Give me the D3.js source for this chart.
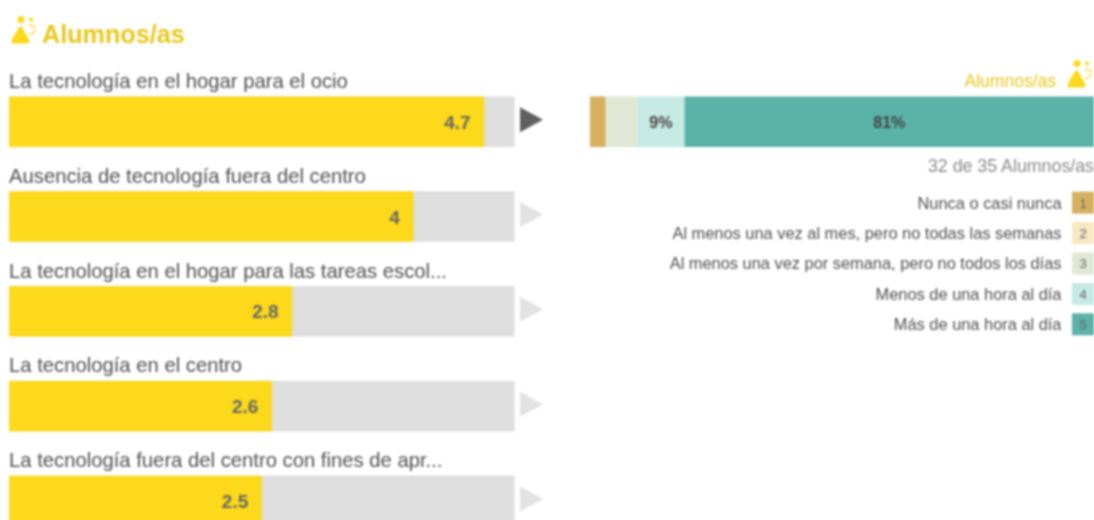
<!DOCTYPE html>
<html><head><meta charset="utf-8">
<script src="https://cdn.jsdelivr.net/npm/d3@7"></script>
<style>
html,body{margin:0;padding:0;background:#fff;overflow:hidden;width:1094px;height:520px}
svg{display:block;filter:blur(0.8px)}
text{font-family:"Liberation Sans",Arial,sans-serif}
</style></head><body>
<svg id="c" width="1104" height="535"></svg>
<script>
const titleText = "Alumnos/as";
const categories = [
  "La tecnología en el hogar para el ocio",
  "Ausencia de tecnología fuera del centro",
  "La tecnología en el hogar para las tareas escol...",
  "La tecnología en el centro",
  "La tecnología fuera del centro con fines de apr..."
];
const means = [4.7, 4, 2.8, 2.6, 2.5];
const responseLabels = [
  "Nunca o casi nunca",
  "Al menos una vez al mes, pero no todas las semanas",
  "Al menos una vez por semana, pero no todos los días",
  "Menos de una hora al día",
  "Más de una hora al día"
];
const responseCodes = [1, 2, 3, 4, 5];
const responseCounts = [1, 0, 2, 3, 26];
const responseShown = ["", "", "", "9%", "81%"];
const responseColors = ["#d6b05f", "#f8e8c0", "#e0e8d5", "#c6e9e3", "#5ab2a9"];
const answered = 32, total = 35;

const svg = d3.select("#c");
const YEL = "#fcd91a", GOLD = "#e9c71d", GREY = "#dedede";

const x = d3.scaleLinear().domain([0, 5]).range([9, 514.5]);
const barH = 50.5;
const rowTop = d3.scaleLinear().domain([0, 1]).range([96.5, 191.3]);

function icon(g) {
  g.append("circle").attr("cx", 10).attr("cy", 3.5).attr("r", 3.6).attr("fill", YEL);
  g.append("circle").attr("cx", 20).attr("cy", 3.5).attr("r", 2).attr("fill", YEL);
  g.append("path").attr("d", "M7.5 12Q9.5 8.5 11.5 12L18 23.5Q19.5 27.5 16 27.5L2.5 27.5Q-1 27.5 1 23.5Z").attr("fill", YEL);
  g.append("path").attr("d", "M18 9.5Q24.5 8.5 24 13.5Q23.5 18.5 18.5 18")
    .attr("fill", "none").attr("stroke", YEL).attr("stroke-width", 1.6).attr("stroke-dasharray", "3.4 1.2");
}

icon(svg.append("g").attr("transform", "translate(11,16)"));
svg.append("text").attr("x", 42).attr("y", 42.6).attr("font-size", 25.2).attr("font-weight", 700)
  .attr("fill", GOLD).text(titleText);

const rows = svg.selectAll("g.row").data(categories).join("g").attr("class", "row")
  .attr("transform", (d, i) => `translate(0,${rowTop(i)})`);
rows.append("text").attr("x", 9).attr("y", -8.6).attr("font-size", 20.25).attr("fill", "#505050").text(d => d);
rows.append("rect").attr("x", x(0)).attr("width", x(5) - x(0)).attr("height", barH).attr("fill", GREY);
rows.append("rect").attr("x", x(0)).attr("width", (d, i) => x(means[i]) - x(0)).attr("height", barH).attr("fill", YEL);
rows.append("text").attr("x", (d, i) => x(means[i]) - 13.5).attr("y", barH / 2 + 7)
  .attr("text-anchor", "end").attr("font-size", 19).attr("font-weight", 700).attr("fill", "#666")
  .text((d, i) => means[i]);
rows.append("path").attr("d", `M520 ${barH/2-14.5}L543 ${barH/2-2}L520 ${barH/2+10.5}Z`)
  .attr("fill", (d, i) => i === 0 ? "#606060" : "#e2e2e2");

// stacked distribution
const sx = d3.scaleLinear().domain([0, answered]).range([590, 1094]);
const cum = d3.cumsum(responseCounts);
const seg = svg.selectAll("g.seg").data(responseCounts).join("g").attr("class", "seg");
seg.append("rect").attr("x", (d, i) => sx(cum[i] - d)).attr("y", rowTop(0))
  .attr("width", d => sx(d) - sx(0)).attr("height", barH).attr("fill", (d, i) => responseColors[i]);
seg.append("text").attr("x", (d, i) => sx(cum[i] - d / 2)).attr("y", rowTop(0) + barH / 2 + 6)
  .attr("text-anchor", "middle").attr("font-size", 16).attr("font-weight", 700).attr("fill", "#444")
  .text((d, i) => responseShown[i]);

svg.append("text").attr("x", 1056).attr("y", 86.5).attr("text-anchor", "end").attr("font-size", 17.5)
  .attr("fill", GOLD).text(titleText);
icon(svg.append("g").attr("transform", "translate(1067,60)"));

svg.append("text").attr("x", 1094).attr("y", 171.5).attr("text-anchor", "end").attr("font-size", 17.8)
  .attr("fill", "#8a8a8a").text(`${answered} de ${total} ${titleText}`);

const ly = d3.scaleLinear().domain([0, 1]).range([203, 233.4]);
const leg = svg.selectAll("g.leg").data(responseLabels).join("g").attr("class", "leg")
  .attr("transform", (d, i) => `translate(0,${ly(i)})`);
leg.append("text").attr("x", 1061.5).attr("y", 5.5).attr("text-anchor", "end").attr("font-size", 16.4).attr("fill", "#505050").text(d => d);
leg.append("rect").attr("x", 1072).attr("y", -11.3).attr("width", 22).attr("height", 22).attr("fill", (d, i) => responseColors[i]);
leg.append("text").attr("x", 1083).attr("y", 4.5).attr("text-anchor", "middle").attr("font-size", 13).attr("fill", "#666")
  .text((d, i) => responseCodes[i]);
</script></body></html>
